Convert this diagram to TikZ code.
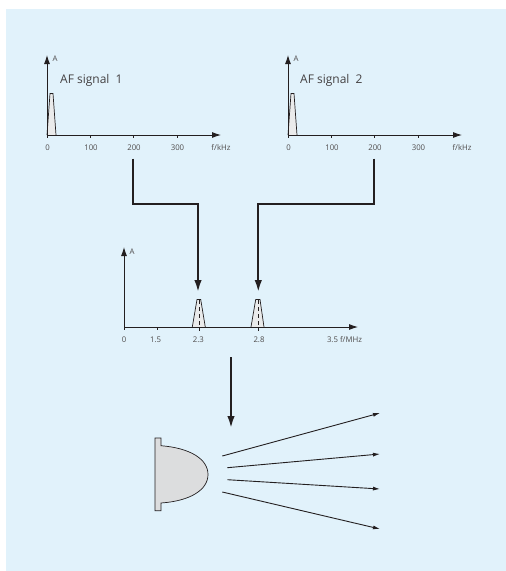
\documentclass[tikz,border=0pt]{standalone}
\usepackage{fontspec}
\setmainfont{Open Sans}
\usetikzlibrary{arrows.meta}
\definecolor{panelblue}{HTML}{E1F2FB}
\definecolor{inkdark}{HTML}{231F20}
\definecolor{lobegray}{HTML}{DCDDDE}
\tikzset{
  axis/.style={draw=inkdark, line width=0.9pt, -{Latex[length=9pt,width=6pt]}},
  feedline/.style={draw=inkdark, line width=2pt, -{Latex[length=12pt,width=7.5pt]}},
  beam/.style={draw=inkdark, line width=0.9pt, -{Latex[length=7pt,width=4pt]}},
  tick/.style={draw=inkdark, line width=0.7pt},
  band/.style={draw=inkdark, line width=0.7pt, fill=lobegray!60},
  ticklabel/.style={font=\fontsize{7.8}{9}\selectfont, text=inkdark!80, inner sep=0pt},
  heading/.style={font=\fontsize{12}{14}\selectfont, text=inkdark!85, inner sep=0pt, anchor=west}
}
\begin{document}
\begin{tikzpicture}[x=1pt,y=-1pt]
  \useasboundingbox (0,0) rectangle (506,571);
  \fill[panelblue] (6,9) rectangle (506,571);
  % AF spectra
  \foreach \ox/\n/\lx in {47/1/60, 288/2/300} {
    \draw[band] (\ox,135) -- (\ox+3,93.5) -- (\ox+6,93.5) -- (\ox+9,135);
    \draw[axis] (\ox,136.5) -- (\ox,55);
    \draw[axis] (\ox,135) -- (\ox+174,135);
    \node[ticklabel] at (\ox+8,59) {A};
    \node[heading] at (\lx,80) {AF signal\ \ \n};
    \foreach \f/\t in {0/0, 43.5/100, 86.5/200, 130/300} {
      \draw[tick] (\ox+\f,135) -- (\ox+\f,138);
      \node[ticklabel] at (\ox+\f+0.5,148) {\t};
    }
    \node[ticklabel] at (\ox+174,148) {f/kHz};
  }
  % mixed spectrum
  \draw[band] (192.3,327) -- (197,299.5) -- (200.7,299.5) -- (205.3,327);
  \draw[band] (251,327) -- (255.7,299.5) -- (260,299.5) -- (264,327);
  \draw[inkdark, line width=0.7pt, dash pattern=on 4pt off 3pt] (199,300) -- (199,331);
  \draw[inkdark, line width=0.7pt, dash pattern=on 4pt off 3pt] (258,300) -- (258,331);
  \draw[axis] (124,328.5) -- (124,247);
  \draw[axis] (124,327) -- (358,327);
  \node[ticklabel] at (132,252) {A};
  \foreach \x/\t/\lx in {124/0/124, 157/1.5/155.7, 199.5/2.3/198.3, 258.5/2.8/259} {
    \draw[tick] (\x,327) -- (\x,330);
    \node[ticklabel] at (\lx,340) {\t};
  }
  \node[ticklabel] at (344.5,340) {3.5 f/MHz};
  % upconversion feeds
  \coordinate (feedA) at (133,158.5);
  \coordinate (feedB) at (374.3,158.5);
  \coordinate (mixA) at (198,292);
  \coordinate (mixB) at (258.3,292);
  \draw[feedline] (feedA) |- (198,203.5) -- (mixA);
  \draw[feedline] (feedB) |- (258.3,203.5) -- (mixB);
  \coordinate (ampIn) at (231,357);
  \coordinate (ampOut) at (231,428);
  \draw[feedline] (ampIn) -- (ampOut);
  % loudspeaker
  \draw[inkdark, line width=0.7pt, fill=lobegray]
    (155,438) -- (161,438) -- (161,445.7)
    .. controls (190,448) and (208,459) .. (208,474.5)
    .. controls (208,490) and (190,501) .. (161,503)
    -- (161,510.7) -- (155,510.7) -- cycle;
  % radiated signals
  \foreach \i/\ya/\yb/\xa in {1/456/413/222.3, 2/467.7/454/227.3, 3/479.7/489/227.3, 4/492/529/222.3} {
    \coordinate (src\i) at (\xa,\ya);
    \coordinate (tip\i) at (380,\yb);
    \draw[beam] (src\i) -- (tip\i);
  }
\end{tikzpicture}
\end{document}
